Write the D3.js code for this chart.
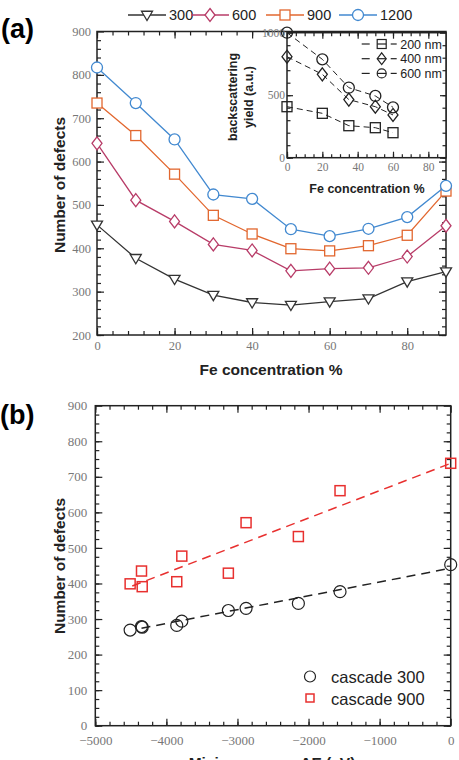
<!DOCTYPE html>
<html>
<head>
<meta charset="utf-8">
<script src="https://cdnjs.cloudflare.com/ajax/libs/d3/7.8.5/d3.min.js"></script>
<style>
  body { margin: 0; background: #fff; }
  svg { display: block; }
  .tick text { font-family: "Liberation Serif", "Times New Roman", serif; fill: #777; }
  .lab { font-family: "Liberation Sans", Arial, sans-serif; font-weight: bold; fill: #222; }
</style>
</head>
<body>
<svg id="chart" width="459" height="760"></svg>
<script>
// ---- panel (a) data: defects vs Fe concentration ----
const feConc = [0, 10, 20, 30, 40, 50, 60, 70, 80, 90];
const defects300 = [454, 377, 329, 292, 275, 269, 277, 284, 323, 346];
const defects600 = [642, 511, 462, 409, 395, 348, 353, 355, 381, 452];
const defects900 = [735, 660, 571, 476, 433, 399, 394, 406, 430, 532];
const defects1200 = [817, 735, 651, 524, 514, 444, 428, 445, 472, 544];
const cascadeNames = ["300", "600", "900", "1200"];

// inset: backscattering yield
const insetConc = [0, 20, 35, 50, 60];
const yield200 = [408, 355, 256, 240, 200];
const yield400 = [808, 667, 465, 408, 342];
const yield600 = [1000, 787, 560, 494, 403];
const depthNames = ["200 nm", "400 nm", "600 nm"];

// ---- panel (b) data: defects vs mixing energy ----
const mixEnergy = [-4510, -4350, -4340, -3854, -3783, -3128, -2879, -2143, -1557, 0];
const casc300 = [269, 279, 277, 282, 294, 324, 330, 344, 377, 453];
const casc900 = [399, 435, 391, 405, 477, 429, 571, 532, 661, 738];
const fit300 = [[-4350, 274], [0, 443]];
const fit900 = [[-4480, 393], [0, 738]];

const svg = d3.select("#chart");

// draws a boxed frame with inward ticks on all four sides
function frame(g, x, y, o) {
  const w = x.range()[1] - x.range()[0], h = y.range()[0] - y.range()[1];
  const [x0] = x.range(), y1 = y.range()[1];
  const sides = [
    {ax: d3.axisBottom, s: x, t: "translate(0," + y.range()[0] + ")", lab: true, maj: o.xMaj, min: o.xMin, pad: o.xPad || o.pad},
    {ax: d3.axisTop, s: x, t: "translate(0," + y1 + ")", lab: false, maj: o.xMaj, min: o.xMin, pad: o.pad},
    {ax: d3.axisLeft, s: y, t: "translate(" + x0 + ",0)", lab: true, maj: o.yMaj, min: o.yMin, pad: o.pad},
    {ax: d3.axisRight, s: y, t: "translate(" + x.range()[1] + ",0)", lab: false, maj: o.yMaj, min: o.yMin, pad: o.pad}
  ];
  sides.forEach(sd => {
    const a = g.append("g").attr("transform", sd.t)
      .call(sd.ax(sd.s).tickValues(sd.min).tickSize(-o.minLen).tickFormat(""));
    a.select(".domain").remove();
    const b = g.append("g").attr("transform", sd.t)
      .call(sd.ax(sd.s).tickValues(sd.maj).tickSize(-o.majLen).tickPadding(sd.pad)
        .tickFormat(sd.lab ? d3.format("d") : ""));
    b.select(".domain").remove();
    b.selectAll("text").style("font-size", o.font + "px");
  });
  g.selectAll(".tick line").attr("stroke", "#222").attr("stroke-width", 1.2);
  g.append("rect").attr("x", x0).attr("y", y1).attr("width", w).attr("height", h)
    .attr("fill", "none").attr("stroke", "#222").attr("stroke-width", 1.5);
}

function marker(sel, shape, size) {
  if (shape === "circle") {
    sel.append("circle").attr("r", size);
  } else if (shape === "square") {
    sel.append("rect").attr("x", -size).attr("y", -size).attr("width", 2 * size).attr("height", 2 * size);
  } else if (shape === "diamond") {
    sel.append("path").attr("d", `M0,${-size * 1.3}L${size},0L0,${size * 1.3}L${-size},0Z`);
  } else if (shape === "tri") {
    sel.append("path").attr("d", `M${-size * 1.1},${-size * 0.75}L${size * 1.1},${-size * 0.75}L0,${size * 1.1}Z`);
  }
}

// ================= panel (a) =================
const ga = svg.append("g");
const xa = d3.scaleLinear().domain([0, 90]).range([97, 446]);
const ya = d3.scaleLinear().domain([200, 900]).range([335, 31.5]);

frame(ga, xa, ya, {
  xMaj: [0, 20, 40, 60, 80], xMin: d3.range(0, 90, 4),
  yMaj: d3.range(200, 901, 100), yMin: d3.range(200, 900, 20),
  majLen: 7, minLen: 4, pad: 6, font: 12.5
});

const seriesA = [
  {name: cascadeNames[0], vals: defects300, color: "#333333", shape: "tri"},
  {name: cascadeNames[1], vals: defects600, color: "#b83c68", shape: "diamond"},
  {name: cascadeNames[2], vals: defects900, color: "#e2672f", shape: "square"},
  {name: cascadeNames[3], vals: defects1200, color: "#4289d0", shape: "circle"}
];
const lineA = d3.line().x(d => xa(d[0])).y(d => ya(d[1]));

seriesA.forEach(s => {
  const pts = feConc.map((c, i) => [c, s.vals[i]]);
  ga.append("path").datum(pts).attr("d", lineA)
    .attr("fill", "none").attr("stroke", s.color).attr("stroke-width", 1.3);
  ga.selectAll(null).data(pts).enter().append("g")
    .attr("transform", d => `translate(${xa(d[0])},${ya(d[1])})`)
    .each(function() {
      marker(d3.select(this), s.shape, s.shape === "circle" ? 5.5 : 5);
    })
    .selectAll("*").attr("fill", "#fff").attr("stroke", s.color).attr("stroke-width", 1.3);
});

// top legend
const legA = [147, 210, 285, 358];
seriesA.forEach((s, i) => {
  const lg = svg.append("g").attr("transform", `translate(${legA[i]},15)`);
  lg.append("line").attr("x1", -19).attr("x2", 19).attr("stroke", s.color).attr("stroke-width", 1.5);
  const m = lg.append("g");
  marker(m, s.shape, s.shape === "circle" ? 5.5 : 5);
  m.selectAll("*").attr("fill", "#fff").attr("stroke", s.color).attr("stroke-width", 1.3);
  lg.append("text").attr("x", 22).attr("y", 5).text(s.name)
    .style("font-family", "Liberation Sans, Arial, sans-serif").style("font-size", "14.5px").attr("fill", "#222");
});

// axis labels (a)
svg.append("text").attr("class", "lab").attr("x", 271).attr("y", 375)
  .attr("text-anchor", "middle").style("font-size", "15.5px").text("Fe concentration %");
svg.append("text").attr("class", "lab")
  .attr("transform", "translate(65,185) rotate(-90)")
  .attr("text-anchor", "middle").style("font-size", "15.5px").text("Number of defects");
svg.append("text").attr("class", "lab").attr("x", 1).attr("y", 38)
  .style("font-size", "27px").style("fill", "#000").text("(a)");

// ---- inset ----
const gi = svg.append("g");
const xi = d3.scaleLinear().domain([0, 90]).range([287, 446]);
const yi = d3.scaleLinear().domain([0, 1000]).range([157.7, 32.7]);
gi.append("rect").attr("x", 287).attr("y", 32.7).attr("width", 159).attr("height", 125)
  .attr("fill", "#fff");
frame(gi, xi, yi, {
  xMaj: [0, 20, 40, 60, 80], xMin: d3.range(0, 90, 5),
  yMaj: [0, 500, 1000], yMin: d3.range(0, 1000, 100),
  majLen: 6, minLen: 3.5, pad: 5, font: 11.5
});
gi.selectAll(".tick text").filter(function() { return d3.select(this.parentNode.parentNode).attr("transform").startsWith("translate(287"); })
  .attr("x", -2);

const seriesI = [
  {name: depthNames[0], vals: yield200, shape: "square"},
  {name: depthNames[1], vals: yield400, shape: "diamond"},
  {name: depthNames[2], vals: yield600, shape: "circle"}
];
const lineI = d3.line().x(d => xi(d[0])).y(d => yi(d[1]));
seriesI.forEach((s, k) => {
  const pts = insetConc.map((c, i) => [c, s.vals[i]]);
  gi.append("path").datum(pts).attr("d", lineI)
    .attr("fill", "none").attr("stroke", "#222").attr("stroke-width", 1)
    .attr("stroke-dasharray", "6,4");
  gi.selectAll(null).data(pts).enter().append("g")
    .attr("transform", d => `translate(${xi(d[0])},${yi(d[1])})`)
    .each(function() { marker(d3.select(this), s.shape, s.shape === "circle" ? 5.5 : 5); })
    .selectAll("*").attr("fill", "none").attr("stroke", "#222").attr("stroke-width", 1.3);
  // inset legend: "— marker —" with dash through the marker
  const lg = gi.append("g").attr("transform", `translate(381.7,${44 + k * 14.7})`);
  [[-20, -12], [-4.5, 4.5], [9, 15]].forEach(seg => {
    lg.append("line").attr("x1", seg[0]).attr("x2", seg[1])
      .attr("stroke", "#222").attr("stroke-width", 1.2);
  });
  const m = lg.append("g");
  marker(m, s.shape, 4.5);
  m.selectAll("*").attr("fill", "none").attr("stroke", "#222").attr("stroke-width", 1.2);
  lg.append("text").attr("x", 18.5).attr("y", 4.5).text(s.name)
    .style("font-family", "Liberation Sans, Arial, sans-serif").style("font-size", "12.5px").attr("fill", "#222");
});
svg.append("text").attr("class", "lab").attr("x", 367).attr("y", 193)
  .attr("text-anchor", "middle").style("font-size", "12.5px").text("Fe concentration %");
svg.append("text").attr("class", "lab")
  .attr("transform", "translate(237,97) rotate(-90)")
  .attr("text-anchor", "middle").style("font-size", "12.5px").text("backscattering");
svg.append("text").attr("class", "lab")
  .attr("transform", "translate(253,97) rotate(-90)")
  .attr("text-anchor", "middle").style("font-size", "12.5px").text("yield (a.u.)");

// ================= panel (b) =================
const gb = svg.append("g");
const xb = d3.scaleLinear().domain([-5000, 0]).range([95.3, 450.7]);
const yb = d3.scaleLinear().domain([0, 900]).range([725.7, 405.7]);

frame(gb, xb, yb, {
  xMaj: d3.range(-5000, 1, 1000), xMin: d3.range(-5000, 0, 200),
  yMaj: d3.range(0, 901, 100), yMin: d3.range(0, 900, 25),
  majLen: 7, minLen: 4, pad: 8, xPad: 10, font: 13
});

const fitLine = d3.line().x(d => xb(d[0])).y(d => yb(d[1]));
gb.append("path").datum(fit300).attr("d", fitLine).attr("fill", "none")
  .attr("stroke", "#222").attr("stroke-width", 1.5).attr("stroke-dasharray", "9,6");
gb.append("path").datum(fit900).attr("d", fitLine).attr("fill", "none")
  .attr("stroke", "#e8302f").attr("stroke-width", 1.5).attr("stroke-dasharray", "9,6");

gb.selectAll(".c300").data(mixEnergy).enter().append("circle")
  .attr("cx", d => xb(d)).attr("cy", (d, i) => yb(casc300[i])).attr("r", 6)
  .attr("fill", "none").attr("stroke", "#222").attr("stroke-width", 1.2);
gb.selectAll(".c900").data(mixEnergy).enter().append("rect")
  .attr("x", d => xb(d) - 5).attr("y", (d, i) => yb(casc900[i]) - 5)
  .attr("width", 10).attr("height", 10)
  .attr("fill", "none").attr("stroke", "#e8302f").attr("stroke-width", 1.5);

// legend (b)
gb.append("circle").attr("cx", 310).attr("cy", 676.5).attr("r", 5.5)
  .attr("fill", "none").attr("stroke", "#222").attr("stroke-width", 1.2);
gb.append("rect").attr("x", 306).attr("y", 694).attr("width", 8).attr("height", 8)
  .attr("fill", "none").attr("stroke", "#e8302f").attr("stroke-width", 1.5);
gb.append("text").attr("x", 331).attr("y", 682.5).text("cascade 300")
  .style("font-family", "Liberation Sans, Arial, sans-serif").style("font-size", "16.5px").attr("fill", "#222");
gb.append("text").attr("x", 331).attr("y", 704.5).text("cascade 900")
  .style("font-family", "Liberation Sans, Arial, sans-serif").style("font-size", "16.5px").attr("fill", "#222");

svg.append("text").attr("class", "lab").attr("x", 272).attr("y", 768)
  .attr("text-anchor", "middle").style("font-size", "15.5px").text("Mixing energy, ΔE (eV)");
svg.append("text").attr("class", "lab")
  .attr("transform", "translate(65,566) rotate(-90)")
  .attr("text-anchor", "middle").style("font-size", "15.5px").text("Number of defects");
svg.append("text").attr("class", "lab").attr("x", 0).attr("y", 424)
  .style("font-size", "27px").style("fill", "#000").text("(b)");
</script>
</body>
</html>
